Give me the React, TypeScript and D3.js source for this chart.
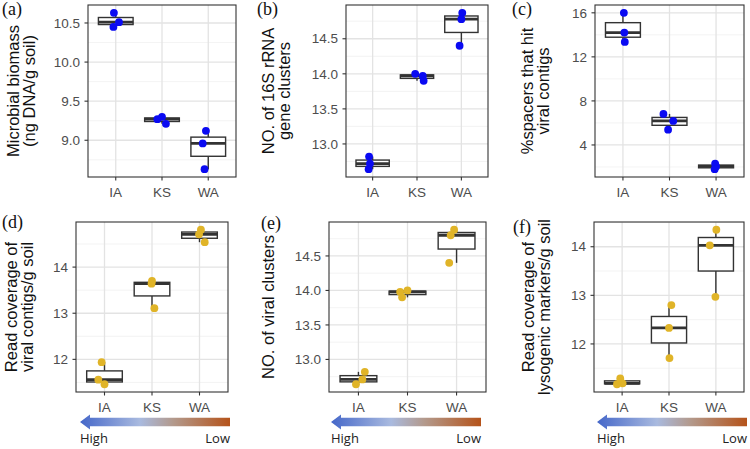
import React from "react";
import * as d3 from "d3";

// ---------------- data ----------------
const sites = ["IA", "KS", "WA"];

const microbialBiomass = [[10.63, 10.51, 10.45], [9.27, 9.30, 9.21], [9.12, 8.96, 8.63]];
const biomassJitter = [[-0.04, 0.07, -0.05], [-0.1, 0.0, 0.085], [-0.05, -0.12, -0.08]];
const biomassTicks = [9.0, 9.5, 10.0, 10.5];

const rrnaClusters = [[12.82, 12.72, 12.64], [14.0, 13.97, 13.9], [14.87, 14.78, 14.4]];
const rrnaJitter = [[-0.08, -0.06, -0.09], [-0.04, 0.13, 0.15], [0.02, 0.0, -0.04]];
const rrnaTicks = [13.0, 13.5, 14.0, 14.5];

const spacerHits = [[16.0, 14.21, 13.36], [6.82, 6.18, 5.39], [2.3, 2.05, 1.8]];
const spacerJitter = [[0.02, 0.03, 0.04], [-0.13, 0.08, -0.03], [-0.02, 0.0, -0.03]];
const spacerTicks = [4, 8, 12, 16];

const viralCoverage = [[11.94, 11.56, 11.46], [13.7, 13.64, 13.11], [14.81, 14.71, 14.54]];
const coverageJitter = [[-0.06, -0.13, 0.0], [0.0, -0.01, 0.05], [0.03, -0.01, 0.11]];
const coverageTicks = [12, 13, 14];

const viralClusters = [[12.82, 12.71, 12.64], [13.98, 14.0, 13.9], [14.88, 14.8, 14.4]];
const viralClusterJitter = [[0.13, 0.08, -0.05], [-0.15, 0.0, -0.11], [-0.05, -0.12, -0.15]];
const viralClusterTicks = [13.0, 13.5, 14.0, 14.5];

const lysogenicCoverage = [[11.29, 11.17, 11.19], [12.8, 12.33, 11.71], [14.35, 14.03, 12.97]];
const lysogenicJitter = [[-0.04, -0.11, 0.01], [0.05, 0.0, 0.01], [0.01, -0.13, -0.01]];
const lysogenicTicks = [12, 13, 14];

const arrowLabels = ["High", "Low"];

// ---------------- styling / layout ----------------
const BLUE = "#0a0af2";
const GOLD = "#e0b428";
const SANS = "Liberation Sans, Arial, Helvetica, sans-serif";
const SERIF = "Liberation Serif, Times New Roman, serif";

type Rect = { x0: number; x1: number; y0: number; y1: number };
type Spec = {
  label: string;
  labelPos: [number, number];
  title: string[];
  titleX: number[];
  values: number[][];
  jitter: number[][];
  ticks: number[];
  fmt: string;
  color: string;
  rect: Rect;
  arrow?: [number, number];
};

const specs: Spec[] = [
  {
    label: "(a)", labelPos: [2, 15], title: ["Microbial biomass", "(ng DNA/g soil)"], titleX: [19, 35],
    values: microbialBiomass, jitter: biomassJitter, ticks: biomassTicks, fmt: ".1f", color: BLUE,
    rect: { x0: 88, x1: 236, y0: 5, y1: 177 },
  },
  {
    label: "(b)", labelPos: [257, 15], title: ["NO. of 16S rRNA", "gene clusters"], titleX: [274, 290],
    values: rrnaClusters, jitter: rrnaJitter, ticks: rrnaTicks, fmt: ".1f", color: BLUE,
    rect: { x0: 346, x1: 488, y0: 5, y1: 177 },
  },
  {
    label: "(c)", labelPos: [512, 15], title: ["%spacers that hit", "viral contigs"], titleX: [533, 549],
    values: spacerHits, jitter: spacerJitter, ticks: spacerTicks, fmt: "d", color: BLUE,
    rect: { x0: 595, x1: 744, y0: 5, y1: 177 },
  },
  {
    label: "(d)", labelPos: [2, 228], title: ["Read coverage of", "viral contigs/g soil"], titleX: [17, 33],
    values: viralCoverage, jitter: coverageJitter, ticks: coverageTicks, fmt: "d", color: GOLD,
    rect: { x0: 76, x1: 228, y0: 222, y1: 392 }, arrow: [80, 230],
  },
  {
    label: "(e)", labelPos: [261, 229], title: ["NO. of viral clusters"], titleX: [274],
    values: viralClusters, jitter: viralClusterJitter, ticks: viralClusterTicks, fmt: ".1f", color: GOLD,
    rect: { x0: 329, x1: 486, y0: 222, y1: 392 }, arrow: [331, 481],
  },
  {
    label: "(f)", labelPos: [513, 233], title: ["Read coverage of", "lysogenic markers/g soil"], titleX: [534, 550],
    values: lysogenicCoverage, jitter: lysogenicJitter, ticks: lysogenicTicks, fmt: "d", color: GOLD,
    rect: { x0: 594, x1: 744, y0: 222, y1: 392 }, arrow: [597, 747],
  },
];

function Arrow({ x0, x1, yc, id }: { x0: number; x1: number; yc: number; id: string }) {
  const head = 10;
  const path = d3.path();
  path.moveTo(x0, yc);
  path.lineTo(x0 + head, yc - 7.5);
  path.lineTo(x0 + head, yc - 4.2);
  path.lineTo(x1, yc - 4.2);
  path.lineTo(x1, yc + 4.2);
  path.lineTo(x0 + head, yc + 4.2);
  path.lineTo(x0 + head, yc + 7.5);
  path.closePath();
  return (
    <g>
      <defs>
        <linearGradient id={id} x1={x0} x2={x1} y1={0} y2={0} gradientUnits="userSpaceOnUse">
          <stop offset="0" stopColor="#4567c9" />
          <stop offset="0.4" stopColor="#a9badf" />
          <stop offset="0.62" stopColor="#b39a8d" />
          <stop offset="1" stopColor="#b5531a" />
        </linearGradient>
      </defs>
      <path d={path.toString()} fill={`url(#${id})`} />
      <text x={x0} y={yc + 21} fontFamily="Open Sans, sans-serif" fontSize={13} fill="#222">{arrowLabels[0]}</text>
      <text x={x1} y={yc + 21} textAnchor="end" fontFamily="Open Sans, sans-serif" fontSize={13} fill="#222">{arrowLabels[1]}</text>
    </g>
  );
}

function Panel({ spec, idx }: { spec: Spec; idx: number }) {
  const { rect, values, jitter, ticks } = spec;
  const all = values.flat();
  const [mn, mx] = d3.extent(all) as [number, number];
  const pad = (mx - mn) * 0.05;
  const y = d3.scaleLinear().domain([mn - pad, mx + pad]).range([rect.y1, rect.y0]);
  const x = d3.scalePoint<string>().domain(sites).range([rect.x0, rect.x1]).padding(0.6);
  const step = x.step();
  const tstep = ticks[1] - ticks[0];
  const [d0, d1] = y.domain();
  const minor = [ticks[0] - tstep / 2, ...ticks.map((t) => t + tstep / 2)].filter((v) => v > d0 && v < d1);
  const fmt = d3.format(spec.fmt);
  const boxW = step * 0.75;
  const yc = (rect.y0 + rect.y1) / 2;

  const stats = values.map((vals) => {
    const s = vals.slice().sort(d3.ascending);
    const q1 = d3.quantileSorted(s, 0.25)!;
    const med = d3.quantileSorted(s, 0.5)!;
    const q3 = d3.quantileSorted(s, 0.75)!;
    const iqr = q3 - q1;
    const lo = d3.min(s.filter((v) => v >= q1 - 1.5 * iqr))!;
    const hi = d3.max(s.filter((v) => v <= q3 + 1.5 * iqr))!;
    return { q1, med, q3, lo, hi };
  });

  return (
    <g>
      {minor.map((v, i) => (
        <line key={"mn" + i} x1={rect.x0} x2={rect.x1} y1={y(v)} y2={y(v)} stroke="#f0f0f0" strokeWidth={0.8} />
      ))}
      {ticks.map((v, i) => (
        <line key={"mj" + i} x1={rect.x0} x2={rect.x1} y1={y(v)} y2={y(v)} stroke="#e3e3e3" strokeWidth={1.3} />
      ))}
      {sites.map((s) => (
        <line key={"vx" + s} x1={x(s)} x2={x(s)} y1={rect.y0} y2={rect.y1} stroke="#e3e3e3" strokeWidth={1.3} />
      ))}
      {stats.map((st, i) => {
        const cx = x(sites[i])!;
        return (
          <g key={"bx" + i}>
            <line x1={cx} x2={cx} y1={y(st.hi)} y2={y(st.q3)} stroke="#333" strokeWidth={1.4} />
            <line x1={cx} x2={cx} y1={y(st.lo)} y2={y(st.q1)} stroke="#333" strokeWidth={1.4} />
            <rect x={cx - boxW / 2} y={y(st.q3)} width={boxW} height={Math.max(0.1, y(st.q1) - y(st.q3))}
              fill="white" stroke="#333" strokeWidth={1.4} />
            <line x1={cx - boxW / 2} x2={cx + boxW / 2} y1={y(st.med)} y2={y(st.med)} stroke="#333" strokeWidth={2.8} />
          </g>
        );
      })}
      {values.map((vals, i) =>
        vals.map((v, j) => (
          <circle key={"p" + i + "-" + j} cx={x(sites[i])! + jitter[i][j] * step} cy={y(v)} r={3.9} fill={spec.color} />
        ))
      )}
      <rect x={rect.x0} y={rect.y0} width={rect.x1 - rect.x0} height={rect.y1 - rect.y0} fill="none" stroke="#333" strokeWidth={1.1} />
      {ticks.map((v, i) => (
        <g key={"yt" + i}>
          <line x1={rect.x0 - 3.5} x2={rect.x0} y1={y(v)} y2={y(v)} stroke="#333" strokeWidth={1.1} />
          <text x={rect.x0 - 8} y={y(v)} dy="0.35em" textAnchor="end" fontFamily={SANS} fontSize={13.5} fill="#4d4d4d">
            {fmt(v)}
          </text>
        </g>
      ))}
      {sites.map((s) => (
        <g key={"xt" + s}>
          <line x1={x(s)} x2={x(s)} y1={rect.y1} y2={rect.y1 + 3.5} stroke="#333" strokeWidth={1.1} />
          <text x={x(s)} y={rect.y1 + 20} textAnchor="middle" fontFamily={SANS} fontSize={13.5} fill="#4d4d4d">
            {s}
          </text>
        </g>
      ))}
      {spec.title.map((t, i) => (
        <text key={"tt" + i} transform={`translate(${spec.titleX[i]},${yc}) rotate(-90)`} textAnchor="middle"
          fontFamily={SANS} fontSize={16.5} fill="#111">
          {t}
        </text>
      ))}
      <text x={spec.labelPos[0]} y={spec.labelPos[1]} fontFamily={SERIF} fontSize={18} fill="#111">{spec.label}</text>
      {spec.arrow && <Arrow x0={spec.arrow[0]} x1={spec.arrow[1]} yc={422} id={"grad" + idx} />}
    </g>
  );
}

export default function App() {
  return (
    <svg width={750} height={449} style={{ position: "absolute", left: 0, top: 0, background: "white" }}>
      <rect width={750} height={449} fill="white" />
      {specs.map((s, i) => (
        <Panel key={i} spec={s} idx={i} />
      ))}
    </svg>
  );
}
